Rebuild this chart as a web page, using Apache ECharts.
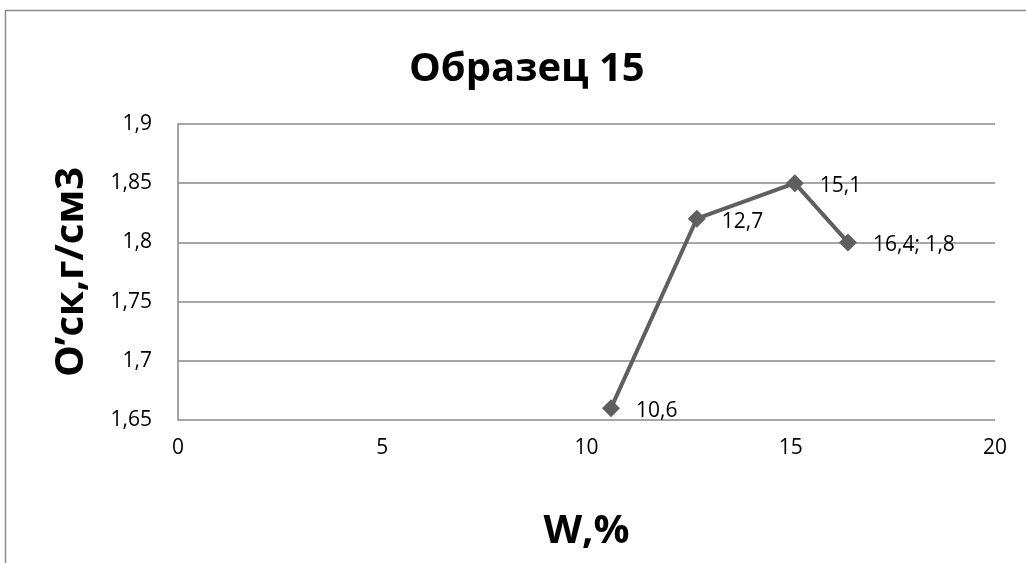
<!DOCTYPE html>
<html><head><meta charset="utf-8">
<script src="https://cdn.jsdelivr.net/npm/echarts@6/dist/echarts.min.js"></script>
<style>html,body{margin:0;padding:0;background:#fff}#c{width:1026px;height:563px}</style>
</head><body><div id="c"></div>
<script>
const wValues = [10.6, 12.7, 15.1, 16.4];
const densityValues = [1.66, 1.82, 1.85, 1.80];
const pointLabels = ['10,6', '12,7', '15,1', '16,4; 1,8'];
const xTicks = {min: 0, max: 20, interval: 5};
const yTicks = {min: 1.65, max: 1.9, interval: 0.05};
const titleText = 'Образец 15';
const xTitle = 'W,%';
const yTitle = 'О’ск,г/см3';

const FONT = '"Open Sans", "Liberation Sans", sans-serif';
const chart = echarts.init(document.getElementById('c'), null, {renderer: 'canvas'});
const fmt = v => String(Math.round(v * 100) / 100).replace('.', ',');
chart.setOption({
  animation: false,
  backgroundColor: '#fff',
  title: {text: titleText, left: 404, top: 45,
    textStyle: {fontFamily: FONT, fontWeight: 'bold', fontSize: 40, color: '#000'}},
  graphic: [{type: 'rect', shape: {x: 5.5, y: 10.5, width: 1100, height: 700},
    style: {fill: 'none', stroke: '#888', lineWidth: 1.5}, silent: true, z: -1}],
  grid: {left: 178, right: 31, top: 124, bottom: 143},
  xAxis: {type: 'value', min: xTicks.min, max: xTicks.max, interval: xTicks.interval,
    name: xTitle, nameLocation: 'middle', nameGap: 92, nameMoveOverlap: false,
    nameTextStyle: {fontFamily: FONT, fontWeight: 'bold', fontSize: 40, color: '#000'},
    axisLine: {show: false}, axisTick: {show: false}, splitLine: {show: false},
    axisLabel: {fontFamily: FONT, fontSize: 21, color: '#000', margin: 18}},
  yAxis: {type: 'value', min: yTicks.min, max: yTicks.max, interval: yTicks.interval,
    name: yTitle, nameLocation: 'middle', nameGap: 86, nameRotate: 90, nameMoveOverlap: false,
    nameTextStyle: {fontFamily: FONT, fontWeight: 'bold', fontSize: 40, color: '#000'},
    axisLine: {show: true, lineStyle: {color: '#888', width: 1.5}}, axisTick: {show: false},
    splitLine: {show: true, lineStyle: {color: '#888', width: 1.5}},
    axisLabel: {fontFamily: FONT, fontSize: 21, color: '#000', margin: 26, formatter: fmt}},
  series: [{type: 'line', data: wValues.map((w, i) => [w, densityValues[i]]),
    symbol: 'diamond', symbolSize: 18, lineStyle: {color: '#5f5f5f', width: 4},
    itemStyle: {color: '#5f5f5f'},
    label: {show: true, position: 'right', distance: 16, offset: [0, 3], fontFamily: FONT, fontSize: 21, color: '#000',
      formatter: p => pointLabels[p.dataIndex]}}]
});
</script></body></html>
